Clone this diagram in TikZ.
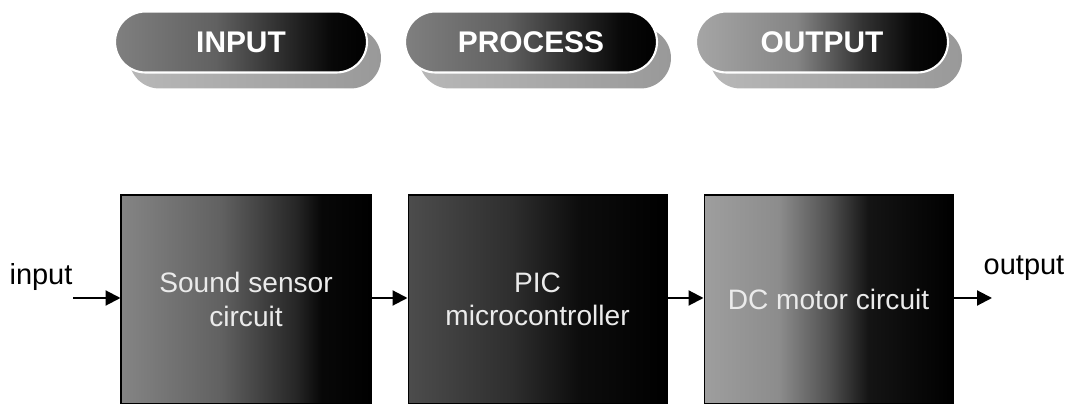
\documentclass[tikz,border=0pt]{standalone}
\usepackage{fontspec}
\setmainfont{Liberation Sans}
\usetikzlibrary{arrows.meta,shapes.misc}
\pgfdeclarehorizontalshading{boxA}{100bp}{color(0bp)=(black!48); color(25bp)=(black!48); color(45bp)=(black!62); color(60bp)=(black!85); color(65bp)=(black!97); color(75bp)=(black); color(100bp)=(black)}
\pgfdeclarehorizontalshading{boxB}{100bp}{color(0bp)=(black!70); color(25bp)=(black!70); color(45bp)=(black!82); color(58bp)=(black!95); color(75bp)=(black); color(100bp)=(black)}
\pgfdeclarehorizontalshading{boxC}{100bp}{color(0bp)=(black!38); color(25bp)=(black!38); color(40bp)=(black!45); color(50bp)=(black!68); color(58bp)=(black!92); color(75bp)=(black); color(100bp)=(black)}
\pgfdeclarehorizontalshading{pillA}{100bp}{color(0bp)=(black!50); color(25bp)=(black!50); color(45bp)=(black!62); color(60bp)=(black!85); color(68bp)=(black!97); color(75bp)=(black); color(100bp)=(black)}
\pgfdeclarehorizontalshading{pillC}{100bp}{color(0bp)=(black!35); color(25bp)=(black!35); color(45bp)=(black!48); color(58bp)=(black!80); color(68bp)=(black!97); color(75bp)=(black); color(100bp)=(black)}
\pgfdeclarehorizontalshading{shad}{100bp}{color(0bp)=(black!28); color(25bp)=(black!28); color(75bp)=(black!40); color(100bp)=(black!40)}
\begin{document}
\begin{tikzpicture}[x=0.02cm,y=-0.02cm,
  pill/.style={rounded rectangle, minimum width=5.04cm, minimum height=1.22cm, inner sep=0pt,
    draw=white, line width=1.2pt, text=white, font=\bfseries\fontsize{17}{19}\selectfont},
  pillshadow/.style={rounded rectangle, minimum width=5.04cm, minimum height=1.22cm, inner sep=0pt, shading=shad},
  block/.style={rectangle, minimum height=4.18cm, inner sep=0pt, draw=black, line width=0.6pt,
    text=white!92!black, align=center, font=\fontsize{16}{19}\selectfont},
  lbl/.style={font=\fontsize{16.5}{19}\selectfont, text=black},
  arr/.style={-{Triangle[length=8.5pt,width=8.5pt]}, line width=1.2pt}]
\useasboundingbox (0,0) rectangle (1074,404);
% pills
\node[pillshadow] (s1) at (255,58) {};
\node[pillshadow] (s2) at (545,58) {};
\node[pillshadow] (s3) at (836,58) {};
\node[pill, shading=pillA] (pin) at (241,42) {INPUT};
\node[pill, shading=pillA] (pproc) at (531,42) {PROCESS};
\node[pill, shading=pillC] (pout) at (822,42) {OUTPUT};
% blocks
\node[block, minimum width=5cm, shading=boxA] (b1) at (246,299.5) {Sound sensor\\circuit};
\node[block, minimum width=5.18cm, shading=boxB] (b2) at (537.5,299.5) {PIC\\microcontroller};
\node[block, minimum width=4.98cm, shading=boxC] (b3) at (828.5,299.5) {DC motor circuit};
% labels
\node[lbl] (lin) at (41,277) {input};
\node[lbl] (lout) at (1024,268) {output};
\coordinate (cin) at (73,298);
\coordinate (cout) at (992,298);
\draw[arr] (cin) -- (cin -| b1.west);
\draw[arr] (b1.east |- cin) -- (b2.west |- cin);
\draw[arr] (b2.east |- cin) -- (b3.west |- cin);
\draw[arr] (b3.east |- cin) -- (cout);
\end{tikzpicture}
\end{document}
